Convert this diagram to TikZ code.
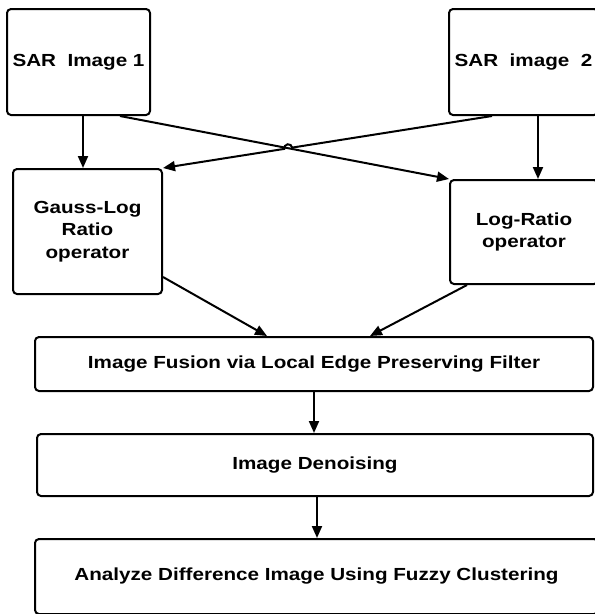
\documentclass[tikz,border=0pt]{standalone}
\usepackage{fontspec}
\setmainfont{Liberation Sans}[FakeStretch=1.18]
\usetikzlibrary{arrows.meta,calc}

\tikzset{
  box/.style={draw, line width=2pt, rounded corners=4pt, anchor=north west,
    inner sep=0pt, align=center, font=\fontsize{17.5}{22.5}\selectfont\bfseries},
  link/.style={line width=2pt, -{Triangle[length=12pt,width=10pt]}},
}

\begin{document}
\begin{tikzpicture}[x=1pt,y=-1pt]
  \useasboundingbox (0,0) rectangle (595,614);

  % input images
  \node[box, minimum width=143pt, minimum height=106pt] (s1) at (6,8) {SAR\ \ Image 1};
  \node[box, minimum width=149pt, minimum height=106pt] (s2) at (448,8) {SAR\ \ image\ \ 2};

  % ratio operators
  \node[box, minimum width=149pt, minimum height=125pt] (g) at (12,168) {Gauss-Log\\Ratio\\operator};
  \node[box, minimum width=148pt, minimum height=104pt] (lr) at (449,179) {Log-Ratio\\operator};

  % processing chain
  \node[box, minimum width=558pt, minimum height=54pt] (f) at (34,336) {Image Fusion via Local Edge Preserving Filter};
  \node[box, minimum width=556pt, minimum height=62pt] (d) at (36,433) {Image Denoising};
  \node[box, minimum width=563pt, minimum height=75pt] (a) at (34,538) {Analyze Difference Image Using Fuzzy Clustering};

  % straight downward links
  \draw[link] ([xshift=4.5pt]s1.south) -- ([xshift=4.5pt]s1.south |- g.north);
  \draw[link] ([xshift=14.5pt]s2.south) -- ([xshift=14.5pt]s2.south |- lr.north);

  % crossing links, the second one hopping over the first
  \coordinate (a1) at ([xshift=-31pt]s1.south east);
  \coordinate (b1) at ([xshift=44pt]s2.south west);
  \draw[link] (a1) -- (lr.north west);
  \coordinate (X) at (intersection of a1--lr.north west and b1--g.north east);
  \draw[link] (b1) -- ($(X)!4pt!(b1)$) arc[start angle=9.26, end angle=189.26, radius=4pt] -- (g.north east);

  % into the fusion step
  \draw[link] ([yshift=18pt]g.south east) -- ([xshift=233pt]f.north west);
  \draw[link] ([xshift=18pt]lr.south west) -- ([xshift=336pt]f.north west);

  % down the chain
  \draw[link] (f.south) -- (f.south |- d.north);
  \draw[link] ([xshift=2pt]d.south) -- ([xshift=2pt]d.south |- a.north);
\end{tikzpicture}
\end{document}
